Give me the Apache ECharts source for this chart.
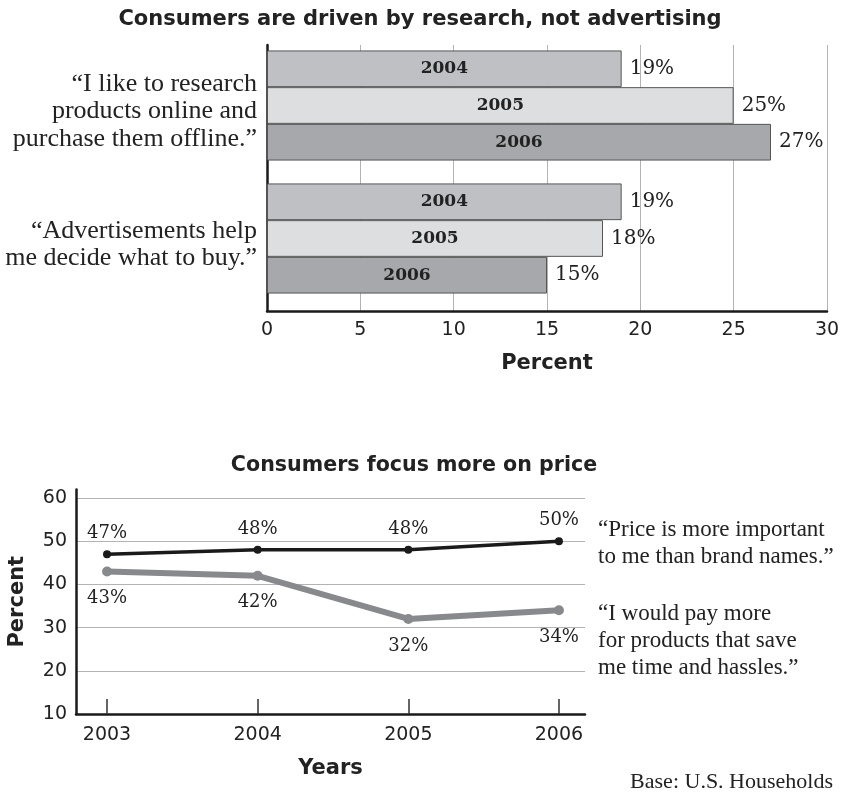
<!DOCTYPE html>
<html><head><meta charset="utf-8">
<script src="https://cdn.jsdelivr.net/npm/echarts@6/dist/echarts.min.js"></script>
<style>html,body{margin:0;padding:0;background:#fff}#c{width:841px;height:792px}</style>
</head><body><div id="c"></div>
<script>
// ---- data: top chart ----
const barCategories = ['\u201cI like to research\nproducts online and\npurchase them offline.\u201d', '\u201cAdvertisements help\nme decide what to buy.\u201d'];
const barYears = ['2004', '2005', '2006'];
const barValues2004 = [19, 19];
const barValues2005 = [25, 18];
const barValues2006 = [27, 15];
const barTickMax = 30;
const barTickStep = 5;

// ---- data: bottom chart ----
const lineYears = [2003, 2004, 2005, 2006];
const priceValues = [47, 48, 48, 50];
const timeValues = [43, 42, 32, 34];
const lineTickMin = 10;
const lineTickMax = 60;
const lineTickStep = 10;

// ---- texts ----
const title1 = 'Consumers are driven by research, not advertising';
const title2 = 'Consumers focus more on price';
const quotePrice = '\u201cPrice is more important\nto me than brand names.\u201d';
const quoteTime = '\u201cI would pay more\nfor products that save\nme time and hassles.\u201d';
const baseNote = 'Base: U.S. Households';

const serif = 'DejaVu Serif';
const quoteFont = 'Liberation Serif';
const sans = 'DejaVu Sans';
const barColors = ['#bfc0c3', '#dddee0', '#a7a8ab'];
const barVals = [barValues2004, barValues2005, barValues2006];
const BW = 36.7;

const series = [];
barYears.forEach((y, i) => {
  series.push({
    type: 'bar', name: y, xAxisIndex: 0, yAxisIndex: 0, data: barVals[i],
    barWidth: BW, barGap: 0, silent: true,
    itemStyle: { color: barColors[i], borderColor: '#555', borderWidth: 1 },
    label: { show: true, position: 'inside', formatter: y, fontFamily: serif, fontWeight: 'bold', fontSize: 17, color: '#222' }
  });
});
series.push({ type: 'bar', name: 'sp', xAxisIndex: 0, yAxisIndex: 0, data: ['-', '-'], barWidth: 12, barGap: 0, silent: true });
barYears.forEach((y, i) => {
  series.push({
    type: 'bar', name: y + 'v', xAxisIndex: 0, yAxisIndex: 1, data: barVals[i],
    barWidth: BW, barGap: 0, silent: true,
    itemStyle: { color: 'rgba(0,0,0,0)' },
    label: { show: true, position: 'right', distance: 8, formatter: '{c}%', fontFamily: serif, fontSize: 20, color: '#222' }
  });
});
series.push({ type: 'bar', name: 'sp2', xAxisIndex: 0, yAxisIndex: 1, data: ['-', '-'], barWidth: 12, barGap: 0, silent: true });

series.push({
  type: 'line', xAxisIndex: 1, yAxisIndex: 2, data: lineYears.map((y, i) => [y, timeValues[i]]),
  lineStyle: { color: '#88898c', width: 6 }, itemStyle: { color: '#88898c' },
  symbol: 'circle', symbolSize: 10, silent: true,
  label: { show: true, position: 'bottom', distance: 13, formatter: p => p.value[1] + '%', fontFamily: serif, fontSize: 18, color: '#222' }
});
series.push({
  type: 'line', xAxisIndex: 1, yAxisIndex: 2, data: lineYears.map((y, i) => [y, priceValues[i]]),
  lineStyle: { color: '#1a1a1a', width: 3.5 }, itemStyle: { color: '#1a1a1a' },
  symbol: 'circle', symbolSize: 8, silent: true,
  label: { show: true, position: 'top', distance: 8, formatter: p => p.value[1] + '%', fontFamily: serif, fontSize: 18, color: '#222' }
});

const chart = echarts.init(document.getElementById('c'), null, { renderer: 'canvas' });
chart.setOption({
  animation: false,
  backgroundColor: '#fff',
  grid: [
    { left: 267, top: 45, width: 560, height: 266, outerBoundsMode: 'none', containLabel: false },
    { left: 76, top: 489.4, width: 509, height: 224.6, outerBoundsMode: 'none', containLabel: false }
  ],
  xAxis: [
    {
      gridIndex: 0, type: 'value', min: 0, max: barTickMax, interval: barTickStep,
      axisLine: { show: true, onZero: false, lineStyle: { color: '#1a1a1a', width: 2.5 } },
      axisTick: { show: false },
      axisLabel: { fontFamily: sans, fontSize: 19, color: '#222', margin: 10 },
      splitLine: { show: true, lineStyle: { color: '#b3b3b3', width: 1 } },
      name: 'Percent', nameLocation: 'middle', nameGap: 42,
      nameTextStyle: { fontFamily: sans, fontWeight: 'bold', fontSize: 21, color: '#222' }
    },
    {
      gridIndex: 1, type: 'value', min: 2002.794, max: 2006.173,
      axisLine: { show: true, onZero: false, lineStyle: { color: '#1a1a1a', width: 2.5 } },
      axisTick: { show: true, inside: true, length: 15, customValues: lineYears, lineStyle: { color: '#333', width: 1.5 } },
      axisLabel: { customValues: lineYears, formatter: v => String(v), fontFamily: sans, fontSize: 19, color: '#222', margin: 12 },
      splitLine: { show: false },
      name: 'Years', nameLocation: 'middle', nameGap: 44,
      nameTextStyle: { fontFamily: sans, fontWeight: 'bold', fontSize: 21, color: '#222' }
    }
  ],
  yAxis: [
    {
      gridIndex: 0, type: 'category', inverse: true, data: barCategories,
      axisLine: { show: true, lineStyle: { color: '#1a1a1a', width: 2.5 } },
      axisTick: { show: false },
      axisLabel: { fontFamily: quoteFont, fontSize: 26, lineHeight: 27.5, color: '#222', align: 'right', margin: 10 }
    },
    { gridIndex: 0, type: 'category', inverse: true, data: barCategories, show: false },
    {
      gridIndex: 1, type: 'value', min: lineTickMin, max: 62, interval: lineTickStep,
      axisLine: { show: true, lineStyle: { color: '#1a1a1a', width: 2.5 } },
      axisTick: { show: false },
      axisLabel: { fontFamily: sans, fontSize: 19, color: '#222', margin: 9, showMaxLabel: false },
      splitLine: { show: true, showMaxLine: false, showMinLine: false, lineStyle: { color: '#b3b3b3', width: 1 } },
      name: 'Percent', nameLocation: 'middle', nameGap: 48, nameRotate: 90,
      nameTextStyle: { fontFamily: sans, fontWeight: 'bold', fontSize: 21, color: '#222' }
    }
  ],
  graphic: [
    { type: 'text', x: 420, y: 20, style: { text: title1, fontFamily: sans, fontWeight: 'bold', fontSize: 21, fill: '#222', align: 'center', verticalAlign: 'middle' } },
    { type: 'text', x: 414, y: 466, style: { text: title2, fontFamily: sans, fontWeight: 'bold', fontSize: 20.6, fill: '#222', align: 'center', verticalAlign: 'middle' } },
    { type: 'text', x: 598, y: 516, style: { text: quotePrice, fontFamily: quoteFont, fontSize: 23, lineHeight: 27, fill: '#222', align: 'left', verticalAlign: 'top' } },
    { type: 'text', x: 598, y: 600, style: { text: quoteTime, fontFamily: quoteFont, fontSize: 23, lineHeight: 27, fill: '#222', align: 'left', verticalAlign: 'top' } },
    { type: 'text', x: 833, y: 782, style: { text: baseNote, fontFamily: quoteFont, fontSize: 22, fill: '#222', align: 'right', verticalAlign: 'middle' } }
  ],
  series: series
});
</script></body></html>
